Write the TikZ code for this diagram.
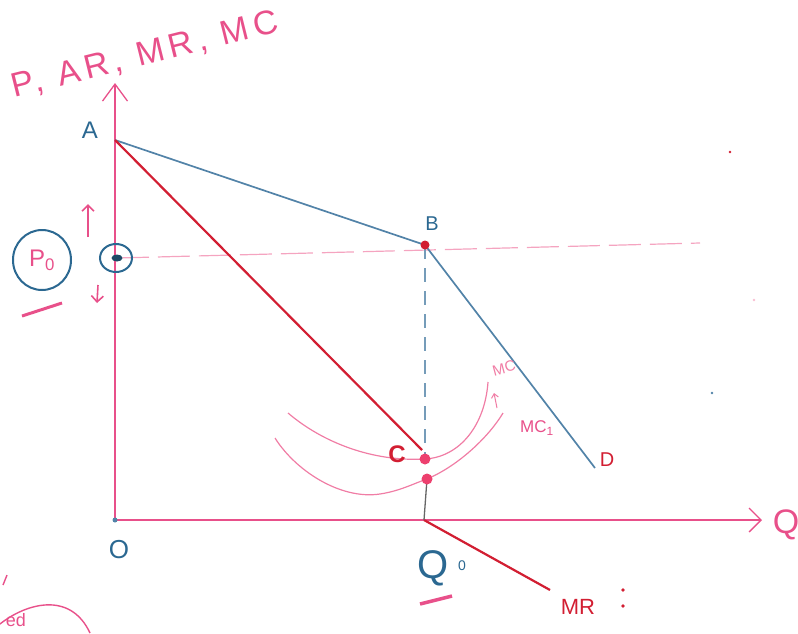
\documentclass[tikz,border=0pt]{standalone}
\usepackage{fontspec}
\setsansfont{Liberation Sans}
\usepackage{tikz}
\usetikzlibrary{arrows.meta}
\definecolor{figpink}{HTML}{E8508A}
\definecolor{figrose}{HTML}{F07DA5}
\definecolor{figred}{HTML}{D21E32}
\definecolor{figblue}{HTML}{5283A8}
\definecolor{figink}{HTML}{2B6891}

\begin{document}
\begin{tikzpicture}[x=1pt,y=-1pt,font=\sffamily,
    axis/.style={figpink,line width=1.3pt},
    blueline/.style={figblue,line width=1.7pt},
    redline/.style={figred,line width=2.2pt},
    mccurve/.style={figrose,line width=1.2pt},
    bluelab/.style={figink,font=\sffamily\fontsize{24}{26}\selectfont},
    redlab/.style={figred,font=\sffamily\bfseries\fontsize{24}{26}\selectfont}]
    \useasboundingbox (0,0) rectangle (798,633);
    % points of the diagram
    \coordinate (O) at (115,520);
    \coordinate (A) at (115,140);
    \coordinate (B) at (425,245);
    \coordinate (C) at (422,450);
    \coordinate (D) at (595,468);
    \coordinate (Q0) at (424,520);
    \coordinate (MRend) at (550,590);
    \coordinate (Ytip) at (115,83);
    \coordinate (Xtip) at (762,520);
    \coordinate (E1) at (425,459);
    \coordinate (E2) at (427,479);
    \coordinate (Pdot) at (117,258);
    \coordinate (Pend) at (700,243);
    % axes
    \draw[axis,-{Straight Barb[length=17pt,width=25pt]}] (O) -- (Ytip);
    \draw[axis,-{Straight Barb[length=12pt,width=24pt]}] (O) -- (Xtip);
    \fill[figblue] (O) circle (2.5);
    % price line
    \draw[figrose!70,line width=1.2pt,dash pattern=on 32pt off 9pt] (Pdot) -- (Pend);
    \draw[figblue!80,line width=1.3pt,dash pattern=on 14pt off 9pt] (B) -- (425,455);
    % demand and MR
    \draw[blueline] (A) -- (B);
    \draw[blueline] (B) -- (D);
    \draw[redline] (A) -- (C);
    \draw[redline] (Q0) -- (MRend);
    \draw[gray!80!black,line width=1.3pt] (E2) -- (Q0);
    \fill[figred] (B) circle (4.5);
    % MC curves
    \draw[mccurve] (288,413) .. controls (322,442) and (372,462) .. (E1) .. controls (460,457) and (485,425) .. (488,382);
    \draw[mccurve] (275,438) .. controls (295,470) and (340,500) .. (380,494) .. controls (400,491) and (415,483) .. (E2) .. controls (460,465) and (490,435) .. (503,413);
    \draw[figrose,line width=1pt,-{Straight Barb[length=4pt,width=7pt]}] (497,408) -- (494,393);
    \fill[figpink!80!red] (E1) circle (5.5);
    \fill[figpink!80!red] (E2) circle (5.5);
    % labels
    \node[bluelab] (Alab) at (90,130) {A};
    \node[bluelab,font=\sffamily\fontsize{20}{22}\selectfont] (Blab) at (432,224) {B};
    \node[redlab] (Clab) at (397,454) {C};
    \node[redlab,font=\sffamily\fontsize{20}{22}\selectfont] (Dlab) at (607,460) {D};
    \node[bluelab,font=\sffamily\fontsize{26}{28}\selectfont] (Olab) at (119,550) {O};
    \node[figred,font=\sffamily\fontsize{22}{24}\selectfont] (MRlab) at (578,607) {MR};
    \fill[figred] (623,590) circle (1.8);
    \fill[figred] (623,606) circle (1.8);
    \node[figpink,font=\sffamily\fontsize{34}{36}\selectfont] (Xlab) at (786,525) {Q};
    \node[figpink,rotate=14,anchor=base west,inner sep=0pt,
      font=\sffamily\fontsize{34}{36}\selectfont\addfontfeature{LetterSpace=15}] (Ylab) at (14,98) {P, AR, MR, MC};
    \node[figrose,rotate=15,inner sep=1pt,font=\sffamily\fontsize{15}{16}\selectfont] (MClab) at (504,368) {MC};
    \node[figpink,font=\sffamily\fontsize{17}{18}\selectfont] (MC1lab) at (537,428) {MC\textsubscript{1}};
    \node[figink,font=\sffamily\fontsize{40}{42}\selectfont] (Q0lab) at (433,568) {Q};
    \node[figink,font=\sffamily\fontsize{14}{15}\selectfont] (Q0sub) at (462,566) {0};
    \draw[figpink,line width=3.5pt] (420,604) -- (452,596);
    % P0 marker
    \draw[figink,line width=2pt] (42,260) ellipse (29 and 30);
    \node[figpink,font=\sffamily\fontsize{24}{26}\selectfont] (P0lab) at (42,260) {P\textsubscript{0}};
    \draw[figink,line width=2pt] (116,258) ellipse (16 and 14);
    \fill[figink!70!black] (Pdot) ellipse (5.5 and 3.5);
    \draw[figpink,line width=3pt] (22,316) -- (62,303);
    \draw[figpink,line width=1.6pt,-{Straight Barb[length=6pt,width=12pt]}] (88,237) -- (88,204);
    \draw[figpink,line width=1.6pt,-{Straight Barb[length=6pt,width=12pt]}] (98,285) -- (97,303);
    % scraps in the corners
    \draw[figpink,line width=1.4pt] (0,624) .. controls (25,604) and (70,590) .. (90,633);
    \node[figpink,font=\sffamily\fontsize{18}{20}\selectfont,inner sep=0pt] (edlab) at (16,620) {ed};
    \draw[figpink,line width=1.4pt] (3,585) -- (7,575);
    \fill[figred] (730,152) circle (1.3);
    \fill[figrose!50] (754,300) circle (1.3);
    \fill[figblue] (712,393) circle (1.3);
\end{tikzpicture}
\end{document}
